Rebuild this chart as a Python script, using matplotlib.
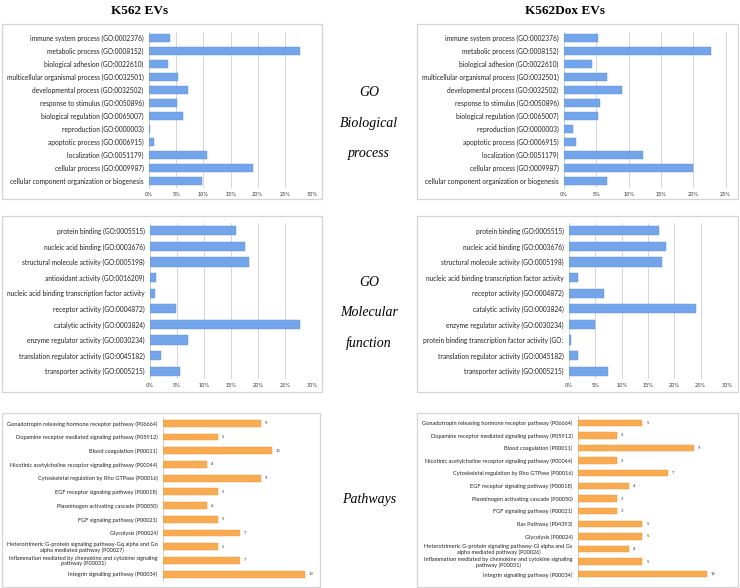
import matplotlib
matplotlib.use("Agg")
import matplotlib.pyplot as plt
from matplotlib.patches import Rectangle
from matplotlib.ticker import FuncFormatter

W, H = 740, 588

bp_labels = ["immune system process (GO:0002376)", "metabolic process (GO:0008152)",
             "biological adhesion (GO:0022610)", "multicellular organismal process (GO:0032501)",
             "developmental process (GO:0032502)", "response to stimulus (GO:0050896)",
             "biological regulation (GO:0065007)", "reproduction (GO:0000003)",
             "apoptotic process (GO:0006915)", "localization (GO:0051179)",
             "cellular process (GO:0009987)", "cellular component organization or biogenesis"]
bp_k562 = [3.8, 27.8, 3.5, 5.4, 7.2, 5.1, 6.2, 0.1, 0.9, 10.7, 19.2, 9.8]
bp_dox = [5.3, 22.8, 4.4, 6.7, 8.9, 5.5, 5.3, 1.45, 1.85, 12.3, 20.0, 6.7]

mf_labels_k562 = ["protein binding (GO:0005515)", "nucleic acid binding (GO:0003676)",
                  "structural molecule activity (GO:0005198)", "antioxidant activity (GO:0016209)",
                  "nucleic acid binding transcription factor activity", "receptor activity (GO:0004872)",
                  "catalytic activity (GO:0003824)", "enzyme regulator activity (GO:0030234)",
                  "translation regulator activity (GO:0045182)", "transporter activity (GO:0005215)"]
mf_k562 = [15.9, 17.6, 18.3, 1.2, 0.9, 4.8, 27.7, 7.1, 2.0, 5.5]

mf_labels_dox = ["protein binding (GO:0005515)", "nucleic acid binding (GO:0003676)",
                 "structural molecule activity (GO:0005198)",
                 "nucleic acid binding transcription factor activity", "receptor activity (GO:0004872)",
                 "catalytic activity (GO:0003824)", "enzyme regulator activity (GO:0030234)",
                 "protein binding transcription factor activity (GO:",
                 "translation regulator activity (GO:0045182)", "transporter activity (GO:0005215)"]
mf_dox = [17.0, 18.5, 17.7, 1.8, 6.6, 24.2, 4.9, 0.4, 1.8, 7.4]

pw_labels_k562 = ["Gonadotropin releasing hormone receptor pathway (P06664)",
                  "Dopamine receptor mediated signaling pathway (P05912)",
                  "Blood coagulation (P00011)",
                  "Nicotinic acetylcholine receptor signaling pathway (P00044)",
                  "Cytoskeletal regulation by Rho GTPase (P00016)",
                  "EGF receptor signaling pathway (P00018)",
                  "Plasminogen activating cascade (P00050)",
                  "FGF signaling pathway (P00021)",
                  "Glycolysis (P00024)",
                  "Heterotrimeric G-protein signaling pathway-Gq alpha and Go\nalpha mediated pathway (P00027)",
                  "Inflammation mediated by chemokine and cytokine signaling\npathway (P00031)",
                  "Integrin signalling pathway (P00034)"]
pw_k562 = [9, 5, 10, 4, 9, 5, 4, 5, 7, 5, 7, 13]

pw_labels_dox = ["Gonadotropin releasing hormone receptor pathway (P06664)",
                 "Dopamine receptor mediated signaling pathway (P05912)",
                 "Blood coagulation (P00011)",
                 "Nicotinic acetylcholine receptor signaling pathway (P00044)",
                 "Cytoskeletal regulation by Rho GTPase (P00016)",
                 "EGF receptor signaling pathway (P00018)",
                 "Plasminogen activating cascade (P00050)",
                 "FGF signaling pathway (P00021)",
                 "Ras Pathway (P04393)",
                 "Glycolysis (P00024)",
                 "Heterotrimeric G-protein signaling pathway-Gi alpha and Gs\nalpha mediated pathway (P00026)",
                 "Inflammation mediated by chemokine and cytokine signaling\npathway (P00031)",
                 "Integrin signalling pathway (P00034)"]
pw_dox = [5, 3, 9, 3, 7, 4, 3, 3, 5, 5, 4, 5, 10]

BLUE = "#74a5ea"
BLUE_EDGE = "#5b90dc"
ORANGE = "#f9ab52"
ORANGE_EDGE = "#ec9533"
FONT = "Lato"


def fr(x0, y0, x1, y1):
    return [x0 / W, 1 - y1 / H, (x1 - x0) / W, (y1 - y0) / H]


fig = plt.figure(figsize=(7.4, 5.88), dpi=100)


def box(x0, y0, x1, y1):
    fig.patches.append(Rectangle((x0 / W, 1 - y1 / H), (x1 - x0) / W, (y1 - y0) / H,
                                 transform=fig.transFigure, fill=False,
                                 edgecolor="#d4d4d4", lw=0.9))


def go_panel(rect, labels, vals, xmax, ticks, fs=4.8):
    ax = fig.add_axes(fr(*rect))
    y = range(len(labels))
    ax.barh(y, [v / 100 for v in vals], height=0.6, color=BLUE, edgecolor=BLUE_EDGE, lw=0.3,
            zorder=3)
    ax.set_ylim(len(labels) - 0.5, -0.5)
    ax.set_xlim(0, xmax)
    ax.set_xticks(ticks)
    ax.xaxis.set_major_formatter(FuncFormatter(lambda v, p: "%d%%" % round(v * 100)))
    ax.set_yticks(list(y))
    ax.set_yticklabels(labels, fontsize=fs, family=FONT, color="#222222")
    ax.tick_params(axis="x", labelsize=3.6, length=0, pad=3, colors="#333333")
    ax.tick_params(axis="y", length=0, pad=4)
    ax.grid(axis="x", color="#cfcfcf", lw=0.6, zorder=0)
    for s in ax.spines.values():
        s.set_visible(False)
    ax.spines["left"].set_visible(True)
    ax.spines["left"].set_color("#cfcfcf")
    ax.spines["left"].set_linewidth(0.6)
    return ax


def pw_panel(rect, labels, vals, xmax):
    ax = fig.add_axes(fr(*rect))
    y = range(len(labels))
    ax.barh(y, vals, height=0.5, color=ORANGE, edgecolor=ORANGE_EDGE, lw=0.3, zorder=3)
    for yi, v in zip(y, vals):
        ax.text(v + xmax * 0.025, yi, str(v), fontsize=3.0, family=FONT, va="center",
                color="#333333")
    ax.set_ylim(len(labels) - 0.5, -0.5)
    ax.set_xlim(0, xmax)
    ax.set_xticks([])
    ax.set_yticks(list(y))
    ax.set_yticklabels(labels, fontsize=4.1, family=FONT, color="#222222",
                       multialignment="center", linespacing=1.05)
    ax.tick_params(axis="y", length=0, pad=4)
    for s in ax.spines.values():
        s.set_visible(False)
    ax.spines["left"].set_visible(True)
    ax.spines["left"].set_color("#c8c8c8")
    ax.spines["left"].set_linewidth(0.6)
    return ax


# frames
box(2, 24, 322, 199)
box(417, 24, 738, 199)
box(2, 216, 322, 392)
box(417, 216, 738, 392)
box(2, 413, 320, 587)
box(417, 413, 738, 587)

pct = [0, 0.05, 0.10, 0.15, 0.20, 0.25, 0.30]
go_panel((149, 31.5, 312, 187.5), bp_labels, bp_k562, 0.30, pct)
go_panel((564, 31.5, 732, 187.5), bp_labels, bp_dox, 0.26, pct[:-1])
go_panel((150, 223, 312, 379), mf_labels_k562, mf_k562, 0.30, pct)
go_panel((569, 223, 727, 379), mf_labels_dox, mf_dox, 0.30, pct)
pw_panel((163, 416.5, 315, 581), pw_labels_k562, pw_k562, 13.9)
pw_panel((578, 416.4, 735, 580.6), pw_labels_dox, pw_dox, 12.2)

# headers
fig.text(140 / W, 1 - 11 / H, "K562 EVs", ha="center", va="center", fontsize=9.5,
         fontweight="bold", family="Liberation Serif")
fig.text(565 / W, 1 - 11 / H, "K562Dox EVs", ha="center", va="center", fontsize=9.5,
         fontweight="bold", family="Liberation Serif")

mid = [(93, "GO"), (123, "Biological"), (153, "process"),
       (282, "GO"), (312, "Molecular"), (343, "function"),
       (500, "Pathways")]
for yy, t in mid:
    fig.text(369 / W, 1 - yy / H, t, ha="center", va="center", fontsize=10,
             style="italic", family="Liberation Serif")

fig.savefig("out.png", dpi=100)
